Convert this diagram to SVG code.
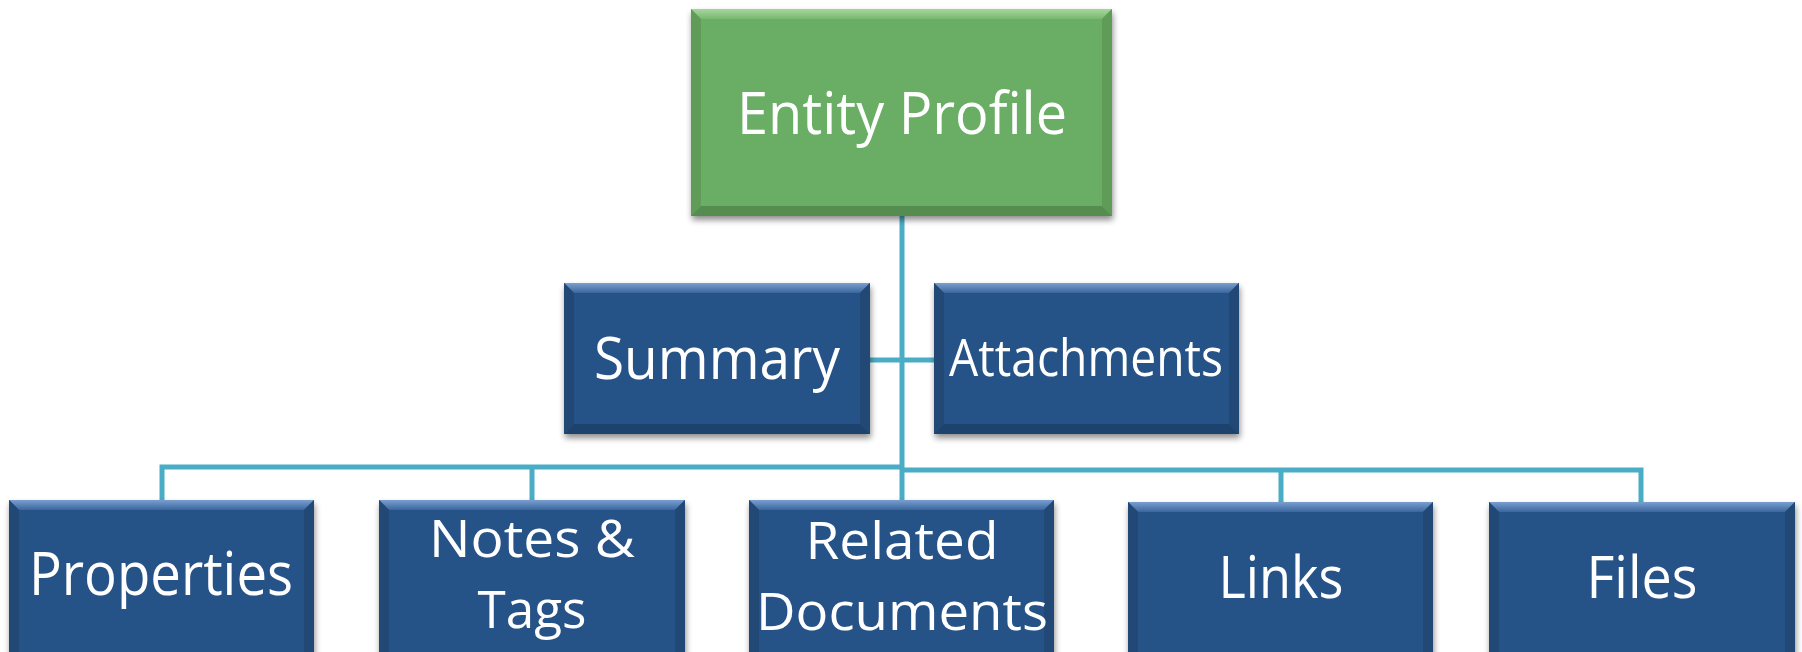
<svg xmlns="http://www.w3.org/2000/svg" width="1802" height="652" viewBox="0 0 1802 652">
<defs>
<filter id="sh" x="-10%" y="-10%" width="120%" height="130%">
<feGaussianBlur in="SourceAlpha" stdDeviation="3"/>
<feOffset dx="1" dy="4" result="b"/>
<feComponentTransfer><feFuncA type="linear" slope="0.45"/></feComponentTransfer>
<feMerge><feMergeNode/><feMergeNode in="SourceGraphic"/></feMerge>
</filter>
<linearGradient id="topB" x1="0" y1="0" x2="0" y2="1"><stop offset="0" stop-color="#7a9fd0"/><stop offset="1" stop-color="#3a669e"/></linearGradient>
<linearGradient id="topG" x1="0" y1="0" x2="0" y2="1"><stop offset="0" stop-color="#a6d79c"/><stop offset="1" stop-color="#78b870"/></linearGradient>
</defs>
<style>
.blue{fill:#285387}
.green{fill:#6bae65}
.bl{fill:#224876}
.gl{fill:#5e9c58}
.bd{fill:#1e426d}
.gd{fill:#548c4f}
.t{fill:#ffffff;font-family:"Open Sans","Noto Sans",sans-serif;text-anchor:middle}
.c{stroke:#4bacc6;stroke-width:5;fill:none}
</style>
<g id="connectors">
<path class="c" d="M902 216 V500"/>
<path class="c" d="M870 360 H934"/>
<path class="c" d="M902 467 H162 V500 M532 467 V500"/>
<path class="c" d="M902 470 H1641 V502 M1281 470 V502"/>
</g>
<g id="entity-profile" filter="url(#sh)">
<rect class="green" x="691" y="9" width="421" height="207"/>
<polygon fill="url(#topG)" points="691,9 1112,9 1102,19 701,19"/>
<polygon class="gl" points="691,9 701,19 701,206 691,216"/>
<polygon class="gl" points="1112,9 1102,19 1102,206 1112,216"/>
<polygon class="gd" points="691,216 701,206 1102,206 1112,216"/>
<text class="t" x="902" y="134" font-size="58" textLength="330" lengthAdjust="spacingAndGlyphs">Entity Profile</text>
</g>
<g id="summary" filter="url(#sh)">
<rect class="blue" x="564" y="283" width="306" height="151"/>
<polygon fill="url(#topB)" points="564,283 870,283 860,293 574,293"/>
<polygon class="bl" points="564,283 574,293 574,424 564,434"/>
<polygon class="bl" points="870,283 860,293 860,424 870,434"/>
<polygon class="bd" points="564,434 574,424 860,424 870,434"/>
<text class="t" x="717" y="379" font-size="58" textLength="246" lengthAdjust="spacingAndGlyphs">Summary</text>
</g>
<g id="attachments" filter="url(#sh)">
<rect class="blue" x="934" y="283" width="305" height="151"/>
<polygon fill="url(#topB)" points="934,283 1239,283 1229,293 944,293"/>
<polygon class="bl" points="934,283 944,293 944,424 934,434"/>
<polygon class="bl" points="1239,283 1229,293 1229,424 1239,434"/>
<polygon class="bd" points="934,434 944,424 1229,424 1239,434"/>
<text class="t" x="1086" y="376" font-size="51" textLength="274" lengthAdjust="spacingAndGlyphs">Attachments</text>
</g>
<g id="properties" filter="url(#sh)">
<rect class="blue" x="9" y="500" width="305" height="160"/>
<polygon fill="url(#topB)" points="9,500 314,500 304,510 19,510"/>
<polygon class="bl" points="9,500 19,510 19,660 9,660"/>
<polygon class="bl" points="314,500 304,510 304,660 314,660"/>
<text class="t" x="161" y="595" font-size="60" textLength="264" lengthAdjust="spacingAndGlyphs">Properties</text>
</g>
<g id="notes-tags" filter="url(#sh)">
<rect class="blue" x="379" y="500" width="306" height="160"/>
<polygon fill="url(#topB)" points="379,500 685,500 675,510 389,510"/>
<polygon class="bl" points="379,500 389,510 389,660 379,660"/>
<polygon class="bl" points="685,500 675,510 675,660 685,660"/>
<text class="t" x="532" y="557" font-size="51" textLength="206" lengthAdjust="spacingAndGlyphs">Notes &amp;</text>
<text class="t" x="532" y="628" font-size="51" textLength="109" lengthAdjust="spacingAndGlyphs">Tags</text>
</g>
<g id="related-documents" filter="url(#sh)">
<rect class="blue" x="749" y="500" width="305" height="160"/>
<polygon fill="url(#topB)" points="749,500 1054,500 1044,510 759,510"/>
<polygon class="bl" points="749,500 759,510 759,660 749,660"/>
<polygon class="bl" points="1054,500 1044,510 1044,660 1054,660"/>
<text class="t" x="902" y="559" font-size="51" textLength="193" lengthAdjust="spacingAndGlyphs">Related</text>
<text class="t" x="902" y="630" font-size="51" textLength="292" lengthAdjust="spacingAndGlyphs">Documents</text>
</g>
<g id="links" filter="url(#sh)">
<rect class="blue" x="1128" y="502" width="305" height="160"/>
<polygon fill="url(#topB)" points="1128,502 1433,502 1423,512 1138,512"/>
<polygon class="bl" points="1128,502 1138,512 1138,662 1128,662"/>
<polygon class="bl" points="1433,502 1423,512 1423,662 1433,662"/>
<text class="t" x="1281" y="598" font-size="58" textLength="125" lengthAdjust="spacingAndGlyphs">Links</text>
</g>
<g id="files" filter="url(#sh)">
<rect class="blue" x="1489" y="502" width="306" height="160"/>
<polygon fill="url(#topB)" points="1489,502 1795,502 1785,512 1499,512"/>
<polygon class="bl" points="1489,502 1499,512 1499,662 1489,662"/>
<polygon class="bl" points="1795,502 1785,512 1785,662 1795,662"/>
<text class="t" x="1642" y="598" font-size="58" textLength="111" lengthAdjust="spacingAndGlyphs">Files</text>
</g>
</svg>
